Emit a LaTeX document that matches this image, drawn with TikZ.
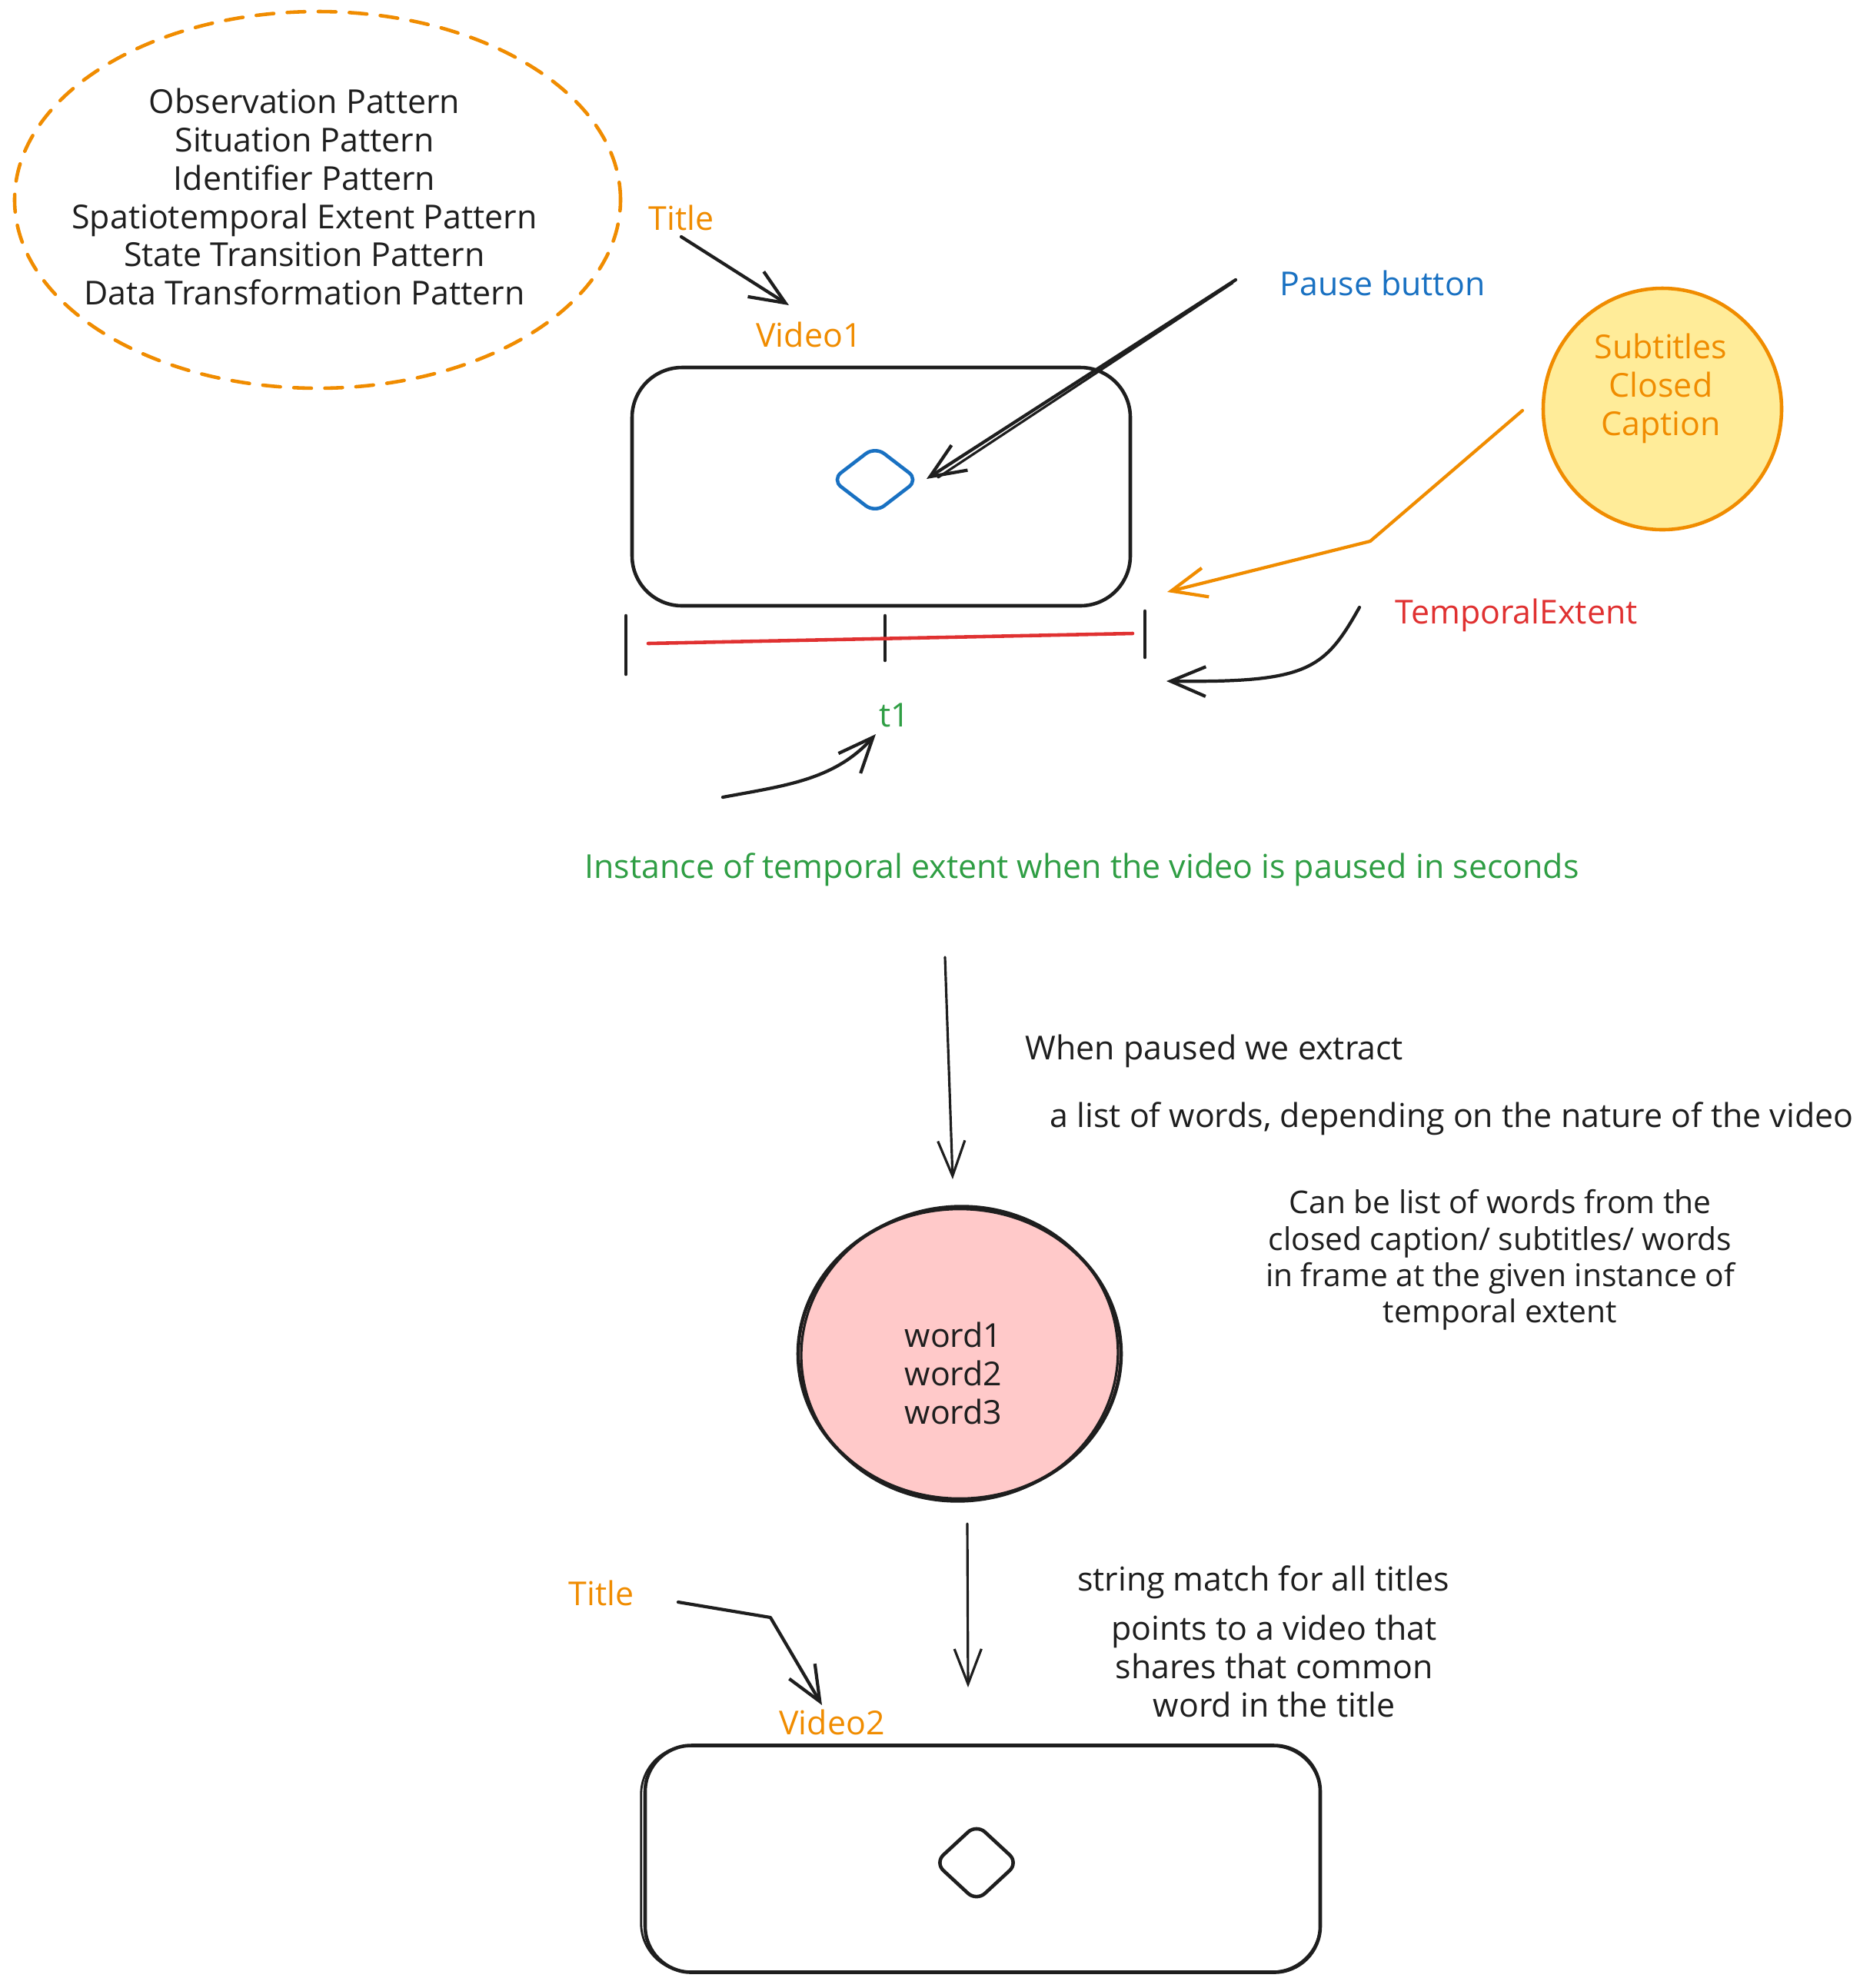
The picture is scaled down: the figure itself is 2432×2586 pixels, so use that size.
\documentclass[tikz,border=0pt]{standalone}
\usepackage{fontspec}
\setmainfont{Open Sans}
\usetikzlibrary{arrows.meta,shapes.geometric,calc}
\definecolor{inkblack}{HTML}{1E1E1E}
\definecolor{sketchorange}{HTML}{F08C00}
\definecolor{sketchblue}{HTML}{1971C2}
\definecolor{sketchred}{HTML}{E03131}
\definecolor{sketchgreen}{HTML}{2F9E44}
\definecolor{notefill}{HTML}{FFEC99}
\definecolor{wordfill}{HTML}{FFC9C9}
\newcommand\handfont{\fontsize{12.2pt}{14.2pt}\selectfont}
\newcommand\smallhandfont{\fontsize{11.6pt}{13.45pt}\selectfont}

\begin{document}
\begin{tikzpicture}[x=0.1mm, y=-0.1mm, line cap=round, line join=round,
  handtext/.style={font=\handfont, text=inkblack, inner sep=0pt, align=center},
  shapeink/.style={draw=inkblack, line width=1.3pt},
  conn/.style={draw=inkblack, line width=1.2pt, -{Straight Barb[length=13pt, width=11pt]}},
  thinconn/.style={draw=inkblack, line width=0.9pt, -{Straight Barb[length=13pt, width=10pt]}}]

\useasboundingbox[fill=white] (0,0) rectangle (2432,2586);

% ---- list of ontology design patterns ----
\node[ellipse, draw=sketchorange, line width=1.3pt, dash pattern=on 6.5pt off 5pt,
      minimum width=78.8mm, minimum height=49mm, inner sep=0pt] (patterns) at (413,260) {};
\node[handtext] (patternlist) at (396,256) {Observation Pattern\\Situation Pattern\\Identifier Pattern\\Spatiotemporal Extent Pattern\\State Transition Pattern\\Data Transformation Pattern};

% ---- first video ----
\node[handtext, text=sketchorange] (title1) at (886,283) {Title};
\node[handtext, text=sketchorange] (video1label) at (1052,435) {Video1};
\node[shapeink, rounded corners=6.5mm, minimum width=64.8mm, minimum height=31mm] (video1) at (1146,633) {};
\node[diamond, draw=sketchblue, line width=1.3pt, minimum width=11.4mm, minimum height=8.8mm,
      inner sep=0pt, rounded corners=1.5mm] (pausebtn) at (1138,624) {};
\node[handtext, text=sketchblue] (pauselabel) at (1798,368) {Pause button};

\coordinate (titleFrom) at (886,308);
\coordinate (titleTo) at (1026,397);
\draw[conn] (titleFrom) -- (titleTo);

\coordinate (pauseFrom) at (1607,364);
\coordinate (pauseTo) at (1205,623);
\draw[conn] (pauseFrom) -- (pauseTo);
\draw[draw=inkblack, line width=0.9pt] (pauseFrom) ++(-4,4) -- (1220,621);

% ---- subtitles / closed caption ----
\node[ellipse, draw=sketchorange, fill=notefill, line width=1.3pt,
      minimum width=31mm, minimum height=31.4mm, inner sep=0pt] (subs) at (2162,532) {};
\node[handtext, text=sketchorange] (subslabel) at (2160,505) {Subtitles\\Closed\\Caption};
\coordinate (subsFrom) at (1980,534);
\coordinate (subsBend) at (1782,704);
\coordinate (subsTo) at (1518,770);
\draw[conn, draw=sketchorange] (subsFrom) -- (subsBend) -- (subsTo);

% ---- temporal extent timeline ----
\coordinate (tickA) at (814,801);
\coordinate (tickB) at (1151,801);
\coordinate (tickC) at (1489,795);
\draw[shapeink] (tickA) -- ++(0,76);
\draw[shapeink] (tickB) -- ++(0,58);
\draw[shapeink] (tickC) -- ++(0,60);
\coordinate (extentStart) at (843,837);
\coordinate (extentEnd) at (1473,824);
\draw[draw=sketchred, line width=1.3pt] (extentStart) -- (extentEnd);

\node[handtext, text=sketchred] (extentlabel) at (1972,800) {TemporalExtent};
\coordinate (extentFrom) at (1768,790);
\coordinate (extentTo) at (1517,886);
\draw[conn] (extentFrom) .. controls (1722,872) and (1700,888) .. (extentTo);

\node[handtext, text=sketchgreen] (t1) at (1163,930) {t1};
\coordinate (instFrom) at (940,1037);
\coordinate (instTo) at (1139,955);
\draw[conn] (instFrom) .. controls (1020,1022) and (1085,1015) .. (instTo);

\node[handtext, text=sketchgreen] (instance) at (1407,1131) {Instance of temporal extent when the video is paused in seconds};

% ---- extracted words ----
\coordinate (extractFrom) at (1229,1245);
\coordinate (extractTo) at (1239,1534);
\draw[thinconn] (extractFrom) -- (extractTo);
\node[handtext, anchor=west] (extractnote) at (1333,1367) {When paused we extract};
\node[handtext, anchor=west] (listnote) at (1365,1455) {a list of words, depending on the nature of the video};

\node[ellipse, draw=inkblack, fill=wordfill, line width=1.3pt,
      minimum width=42mm, minimum height=37.8mm, inner sep=0pt] (words) at (1248,1761) {};
\draw[draw=inkblack, line width=0.9pt, rotate around={5:(words.center)}]
  (words.center) ellipse [x radius=206, y radius=192];
\node[handtext] (wordlist) at (1240,1786) {word1\\word2\\word3};
\node[handtext, font=\smallhandfont] (sourcenote) at (1951,1639) {Can be list of words from the\\closed caption/ subtitles/ words\\in frame at the given instance of\\temporal extent};

% ---- matched video ----
\coordinate (matchFrom) at (1258,1982);
\coordinate (matchTo) at (1259,2195);
\draw[thinconn] (matchFrom) -- (matchTo);
\node[handtext] (matchnote) at (1643,2058) {string match for all titles};
\node[handtext] (pointnote) at (1657,2167) {points to a video that\\shares that common\\word in the title};

\node[handtext, text=sketchorange] (title2) at (782,2072) {Title};
\coordinate (title2From) at (882,2084);
\coordinate (title2Bend) at (1002,2104);
\coordinate (title2To) at (1069,2218);
\draw[conn] (title2From) -- (title2Bend) -- (title2To);
\node[handtext, text=sketchorange] (video2label) at (1082,2240) {Video2};
\node[shapeink, rounded corners=6mm, minimum width=87.8mm, minimum height=29.5mm] (video2) at (1278,2418) {};
\draw[draw=inkblack, line width=0.8pt, rounded corners=6.3mm]
  ($(video2.south west)+(-3,-3)$) rectangle ($(video2.north east)+(-2,3)$);
\node[diamond, shapeink, minimum width=11mm, minimum height=10.2mm,
      inner sep=0pt, rounded corners=1.5mm] (playbtn) at (1270,2423) {};

\end{tikzpicture}
\end{document}
